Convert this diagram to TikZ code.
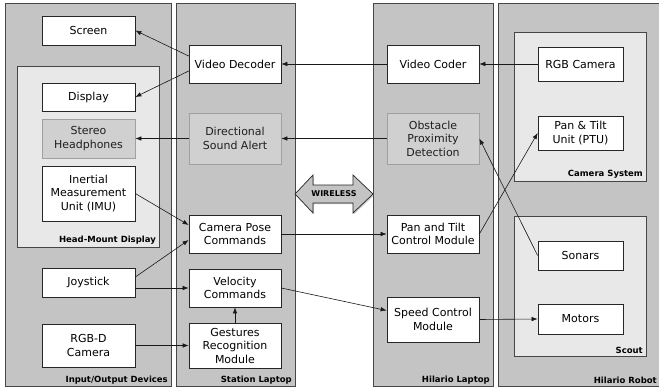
\documentclass[tikz,border=0pt]{standalone}
\usepackage{fontspec}
\setmainfont{DejaVu Sans}
\usetikzlibrary{arrows.meta,shadows}
\definecolor{panelgray}{RGB}{196,196,196}
\definecolor{subgray}{RGB}{232,232,232}
\definecolor{boxgray}{RGB}{208,208,208}
\definecolor{boxline}{RGB}{160,160,160}
\definecolor{edgegray}{RGB}{70,70,70}

\begin{document}
\begin{tikzpicture}[x=1pt, y=-1pt,
    panel/.style={draw=edgegray, fill=panelgray, line width=0.8pt,
        drop shadow={shadow xshift=1pt, shadow yshift=-1pt, opacity=0.35}},
    subpanel/.style={draw=edgegray, fill=subgray, line width=0.6pt},
    tag/.style={font=\fontsize{8.5}{10}\selectfont\bfseries, inner sep=2pt, anchor=south east},
    block/.style={draw=black!85, fill=white, line width=0.7pt, align=center,
        inner sep=2pt, font=\fontsize{11}{13.5}\selectfont,
        drop shadow={shadow xshift=0.8pt, shadow yshift=-0.8pt, opacity=0.25}},
    soft/.style={block, draw=boxline, fill=boxgray, text=black!88},
    arr/.style={-{Latex[length=6pt,width=4.5pt]}, line width=0.6pt, black!90}]

    \useasboundingbox (0,0) rectangle (659,391);

    % --- Columns (name, x1, y1, x2, y2, caption) ---
    \foreach \nm/\xa/\ya/\xb/\yb/\lbl in {
        io/5/3/171/386/{Input/Output Devices},
        st/176/3/295/386/{Station Laptop},
        hl/373/3/493/386/{Hilario Laptop},
        hr/498/3/660/386/{Hilario Robot}}{
        \draw[panel] (\xa,\ya) rectangle (\xb,\yb);
        \node[tag] (\nm-tag) at (\xb-1,\yb) {\lbl};
    }

    % --- Nested groups ---
    \foreach \nm/\xa/\ya/\xb/\yb/\lbl in {
        hmd/17/66/159/247/{Head-Mount Display},
        cam/514/32/646/181/{Camera System},
        scout/514/216/646/356/{Scout}}{
        \draw[subpanel] (\xa,\ya) rectangle (\xb,\yb);
        \node[tag] (\nm-tag) at (\xb-1,\yb) {\lbl};
    }

    % --- Input/Output devices ---
    \node[block, minimum width=93, minimum height=29] (screen) at (88.5,30.5) {Screen};
    \node[block, minimum width=93, minimum height=28] (display) at (88.5,97) {Display};
    \node[soft, minimum width=93, minimum height=39] (phones) at (88.5,138.5) {Stereo\\Headphones};
    \node[block, minimum width=93, minimum height=55] (imu) at (88.5,193.5) {Inertial\\Measurement\\Unit (IMU)};
    \node[block, minimum width=93, minimum height=29] (joy) at (88.5,282.5) {Joystick};
    \node[block, minimum width=93, minimum height=43] (rgbd) at (88.5,345.5) {RGB-D\\Camera};

    % --- Station laptop ---
    \node[block, minimum width=92, minimum height=38] (vdec) at (235,64) {Video Decoder};
    \node[soft, minimum width=92, minimum height=51] (alert) at (235,138.5) {Directional\\Sound Alert};
    \node[block, minimum width=92, minimum height=38] (pose) at (235,234) {Camera Pose\\Commands};
    \node[block, minimum width=92, minimum height=38] (vel) at (235,288) {Velocity\\Commands};
    \node[block, minimum width=92, minimum height=45] (gest) at (235,345.5) {Gestures\\Recognition\\Module};

    % --- Hilario laptop ---
    \node[block, minimum width=92, minimum height=38] (vcod) at (433,64) {Video Coder};
    \node[soft, minimum width=92, minimum height=51] (obst) at (433,138.5) {Obstacle\\Proximity\\Detection};
    \node[block, minimum width=92, minimum height=38] (ptc) at (433,234) {Pan and Tilt\\Control Module};
    \node[block, minimum width=92, minimum height=45] (speed) at (433,319.5) {Speed Control\\Module};

    % --- Hilario robot ---
    \node[block, minimum width=85, minimum height=34] (rgbcam) at (580.5,64) {RGB Camera};
    \node[block, minimum width=85, minimum height=34] (ptu) at (580.5,133) {Pan \& Tilt\\Unit (PTU)};
    \node[block, minimum width=85, minimum height=29] (sonar) at (580.5,255.5) {Sonars};
    \node[block, minimum width=85, minimum height=30] (motor) at (580.5,319) {Motors};

    % --- Wireless link ---
    \draw[draw=black!85, fill=panelgray, line width=0.7pt,
          drop shadow={shadow xshift=1.2pt, shadow yshift=-1.2pt, opacity=0.4}]
        (295,194) -- (313,175) -- (313,185) -- (353,185) -- (353,175) -- (373,194)
        -- (353,213) -- (353,203) -- (313,203) -- (313,213) -- cycle;
    \node[font=\fontsize{8}{10}\selectfont\bfseries, inner sep=0pt] (wireless) at (334,194) {WIRELESS};

    % --- Data flow ---
    \draw[arr] ([yshift=8pt]vdec.west) -- (screen.east);
    \draw[arr] ([yshift=-7pt]vdec.west) -- (display.east);
    \draw[arr] (vcod.west) -- (vdec.east);
    \draw[arr] (rgbcam.west) -- (vcod.east);
    \draw[arr] (obst.west) -- (alert.east);
    \draw[arr] (alert.west) -- (phones.east);
    \draw[arr] (imu.east) -- ([yshift=9pt]pose.west);
    \draw[arr] ([yshift=5.5pt]joy.east) -- ([yshift=-6pt]pose.west);
    \draw[arr] (joy.east |- vel.west) -- (vel.west);
    \draw[arr] (rgbd.east) -- (gest.west);
    \draw[arr] (gest.north) -- (vel.south);
    \draw[arr] (pose.east) -- (ptc.west);
    \draw[arr] (vel.east) -- ([yshift=9pt]speed.west);
    \draw[arr] (speed.east) -- (motor.west);
    \draw[arr] (ptc.east) -- (ptu.west);
    \draw[arr] (sonar.west) -- (obst.east);

\end{tikzpicture}
\end{document}
